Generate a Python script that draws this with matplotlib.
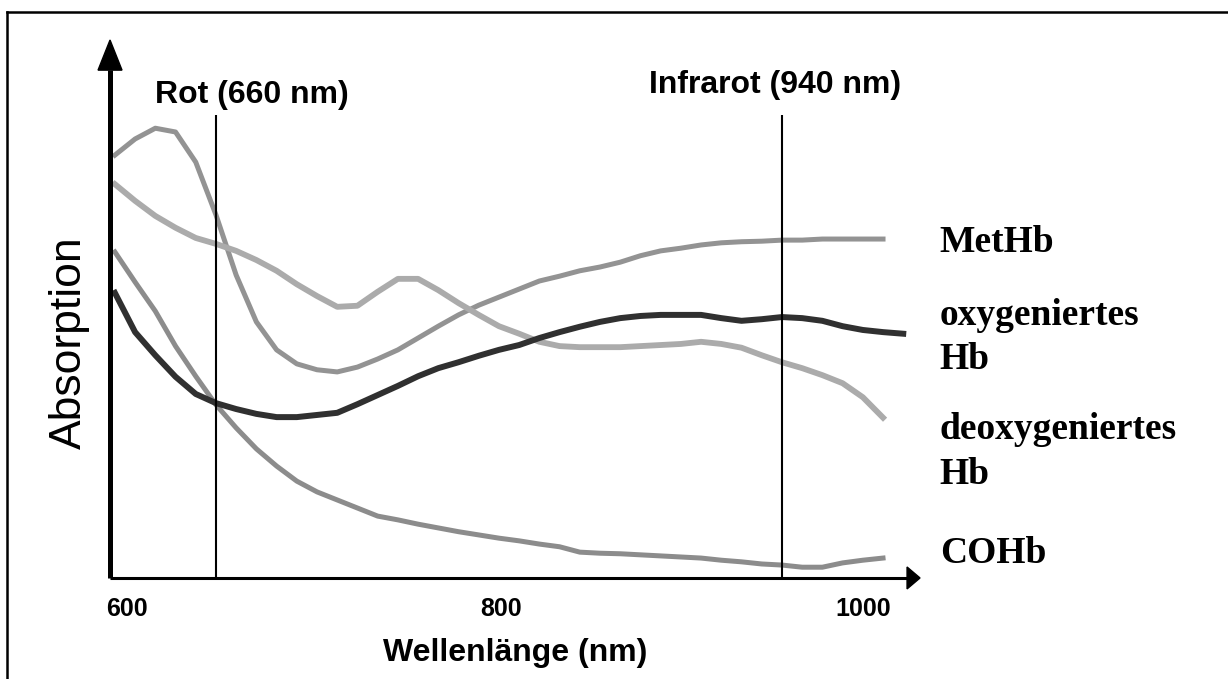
import numpy as np
import matplotlib.pyplot as plt
from matplotlib.patches import Polygon
from matplotlib.lines import Line2D

# Wellenlaengen (nm) und Absorption (willkuerliche Einheiten, 0..100)
wl = [610, 620, 630, 640, 650, 660, 670, 680, 690, 700,
      710, 720, 730, 740, 750, 760, 770, 780, 790, 800,
      810, 820, 830, 840, 850, 860, 870, 880, 890, 900,
      910, 920, 930, 940, 950, 960, 970, 980, 990]
wl_oxy = wl + [1000]

methb = [78.6, 81.6, 83.6, 82.9, 77.3, 67.5, 56.3, 47.6, 42.4, 39.8,
         38.7, 38.3, 39.2, 40.7, 42.4, 44.6, 46.8, 48.9, 50.7, 52.2,
         53.7, 55.2, 56.1, 57.1, 57.8, 58.7, 59.9, 60.8, 61.3, 61.9,
         62.3, 62.5, 62.6, 62.8, 62.8, 63.0, 63.0, 63.0, 63.0]
oxy_hb = [53.0, 45.7, 41.4, 37.4, 34.2, 32.5, 31.4, 30.5, 29.9, 29.9,
          30.3, 30.7, 32.3, 34.0, 35.7, 37.5, 39.0, 40.1, 41.3, 42.4,
          43.3, 44.6, 45.7, 46.7, 47.6, 48.3, 48.7, 48.9, 48.9, 48.9,
          48.3, 47.8, 48.1, 48.5, 48.3, 47.8, 46.8, 46.1, 45.7, 45.4]
deoxy_hb = [73.2, 70.1, 67.3, 65.1, 63.2, 62.1, 60.8, 59.1, 57.1, 54.6,
            52.4, 50.4, 50.6, 53.2, 55.6, 55.6, 53.5, 51.1, 48.9, 46.8,
            45.4, 43.9, 43.1, 42.9, 42.9, 42.9, 43.1, 43.3, 43.5, 43.9,
            43.5, 42.8, 41.4, 40.1, 39.0, 37.7, 36.2, 33.6, 29.8]
cohb = [60.6, 55.0, 49.6, 43.1, 37.5, 32.2, 27.9, 24.0, 20.8, 18.0,
        16.0, 14.5, 13.0, 11.5, 10.8, 10.0, 9.3, 8.6, 8.0, 7.4,
        6.9, 6.3, 5.8, 4.8, 4.6, 4.5, 4.3, 4.1, 3.9, 3.7,
        3.3, 3.0, 2.6, 2.4, 2.0, 2.0, 2.8, 3.3, 3.7]

names = ['MetHb', 'oxygeniertes\nHb', 'deoxygeniertes\nHb', 'COHb']
name_y = [62.3, 44.7, 23.4, 4.5]

markers_nm = [660, 940]
marker_labels = ['Rot (660 nm)', 'Infrarot (940 nm)']

tick_labels = ['600', '800', '1000']

fig = plt.figure(figsize=(12.28, 6.79), dpi=100)
ax = fig.add_axes([0.0896, 0.1488, 0.6596, 0.7923])

ax.plot(wl, methb, color='#939393', lw=3.6)
ax.plot(wl, deoxy_hb, color='#ababab', lw=4.2)
ax.plot(wl, cohb, color='#8c8c8c', lw=3.6)
ax.plot(wl_oxy, oxy_hb, color='#303030', lw=4.3)

# senkrechte Linien bei 660 und 940 nm
ax.vlines(markers_nm, 0, 86.1, color='black', lw=1.5)
ax.text(678, 89.7, marker_labels[0], ha='center', va='center',
        fontsize=23, fontweight='bold', family='Liberation Sans')
ax.text(936.5, 91.6, marker_labels[1], ha='center', va='center',
        fontsize=23, fontweight='bold', family='Liberation Sans')

for n, y in zip(names, name_y):
    ax.text(1018, y, n, ha='left', va='center', fontsize=27, fontweight='bold',
            family='Liberation Serif', linespacing=1.35, clip_on=False)

ax.set_xlim(607.6, 1008.3)
ax.set_ylim(0, 100)
for s in ax.spines.values():
    s.set_visible(False)
ax.set_yticks([])
ax.set_xticks([616, 801, 980])
ax.set_xticklabels(tick_labels, fontsize=18, fontweight='bold', family='Liberation Sans')
ax.tick_params(axis='x', length=0, pad=14)
ax.set_xlabel('Wellenlänge (nm)', fontsize=23, fontweight='bold',
              family='Liberation Sans', labelpad=12)

# Achsen mit Pfeilen
ax.plot([0, 0], [0, 0.944], color='black', lw=3.6, transform=ax.transAxes,
        clip_on=False, solid_capstyle='butt')
ax.add_patch(Polygon([(-0.0148, 0.944), (0.0148, 0.944), (0, 1)], closed=True,
                     color='black', transform=ax.transAxes, clip_on=False))
ax.plot([0, 0.985], [0, 0], color='black', lw=2.2, transform=ax.transAxes,
        clip_on=False, solid_capstyle='butt')
ax.add_patch(Polygon([(0.984, -0.0204), (0.984, 0.0204), (1, 0)], closed=True,
                     color='black', transform=ax.transAxes, clip_on=False))

fig.text(69 / 1228, 1 - 343 / 679, 'Absorption', rotation=90, ha='center',
         va='center', fontsize=32, family='Liberation Sans')

# Rahmen (links und oben)
fig.add_artist(Line2D([7 / 1228, 7 / 1228], [0, 1 - 12 / 679], color='black', lw=1.8))
fig.add_artist(Line2D([7 / 1228, 1], [1 - 12 / 679, 1 - 12 / 679], color='black', lw=1.8))

fig.savefig('out.png', dpi=100)
